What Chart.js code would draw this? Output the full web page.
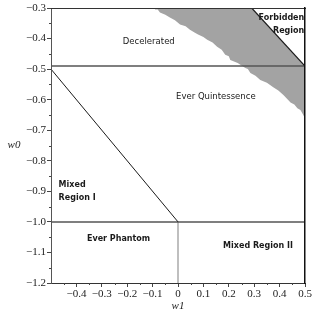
<!DOCTYPE html>
<html>
<head>
<meta charset="utf-8">
<script src="https://cdn.jsdelivr.net/npm/chart.js@4.4.0/dist/chart.umd.min.js"></script>
<style>
    html, body { margin: 0; padding: 0; background: #fff; }
    #wrap { width: 316px; height: 316px; }
</style>
</head>
<body>
<div id="wrap"><canvas id="regionChart" width="316" height="316"></canvas></div>
<script>
// === Data ===
const w1Ticks = [-0.4, -0.3, -0.2, -0.1, 0, 0.1, 0.2, 0.3, 0.4, 0.5];
const w0Ticks = [-0.3, -0.4, -0.5, -0.6, -0.7, -0.8, -0.9, -1.0, -1.1, -1.2];

const decelLineW1 = [-0.5, 0.5];
const decelLineW0 = [-0.49, -0.49];
const phantomLineW1 = [-0.5, 0.5];
const phantomLineW0 = [-1.0, -1.0];
const mixedDiagW1 = [-0.5, 0];
const mixedDiagW0 = [-0.5, -1.0];
const splitLineW1 = [0, 0];
const splitLineW0 = [-1.0, -1.2];
const forbiddenW1 = [0.29, 0.5];
const forbiddenW0 = [-0.3, -0.49];

// lower edge of the grey (numerically found) region, a bit ragged
const shadeW1 = [-0.091, -0.080, -0.071, -0.050, -0.032, -0.012, 0.008, 0.030, 0.047, 0.065, 0.079,
    0.100, 0.115, 0.136, 0.154, 0.172, 0.186, 0.200, 0.206, 0.235, 0.265, 0.275, 0.285, 0.305,
    0.324, 0.350, 0.375, 0.395, 0.415, 0.430, 0.443, 0.458, 0.470, 0.482, 0.490, 0.5];
const shadeW0 = [-0.305, -0.305, -0.315, -0.322, -0.331, -0.340, -0.354, -0.360, -0.371, -0.380, -0.387,
    -0.395, -0.404, -0.413, -0.427, -0.437, -0.453, -0.458, -0.470, -0.480, -0.496, -0.500, -0.513, -0.522,
    -0.536, -0.545, -0.559, -0.570, -0.585, -0.598, -0.609, -0.616, -0.628, -0.634, -0.645, -0.661];

const regionNames = ['Decelerated', 'Forbidden', 'Region', 'Ever Quintessence', 'Mixed', 'Region I', 'Ever Phantom', 'Mixed Region II'];

// === Label placement (data coordinates) ===
const labelSpots = [
    { w1: -0.115, w0: -0.410, align: 'center', bold: false },
    { w1: 0.497, w0: -0.331, align: 'right', bold: true },
    { w1: 0.497, w0: -0.374, align: 'right', bold: true },
    { w1: 0.149, w0: -0.590, align: 'center', bold: false },
    { w1: -0.470, w0: -0.879, align: 'left', bold: true },
    { w1: -0.470, w0: -0.921, align: 'left', bold: true },
    { w1: -0.234, w0: -1.056, align: 'center', bold: true },
    { w1: 0.315, w0: -1.079, align: 'center', bold: true }
];

const toPoints = (xs, ys) => xs.map((x, i) => ({ x: x, y: ys[i] }));

const fmtTick = v => {
    const r = Math.round(v * 10) / 10;
    if (r === 0) return '0';
    return (r < 0 ? '\u2212' : '') + Math.abs(r).toFixed(1);
};

const lineSet = (pts, color, width, order) => ({
    data: pts,
    borderColor: color,
    borderWidth: width,
    pointRadius: 0,
    fill: false,
    order: order
});

// === Plugin: region names, axis titles, minor ticks ===
const decorPlugin = {
    id: 'decor',
    afterDatasetsDraw(chart) {
        const { ctx, scales: { x, y } } = chart;
        ctx.save();
        ctx.fillStyle = '#1a1a1a';
        ctx.textBaseline = 'middle';
        labelSpots.forEach((spot, i) => {
            ctx.font = spot.bold ? 'bold 8px "DejaVu Sans", sans-serif' : '8.5px "DejaVu Sans", sans-serif';
            ctx.textAlign = spot.align;
            ctx.fillText(regionNames[i], x.getPixelForValue(spot.w1), y.getPixelForValue(spot.w0));
        });
        ctx.restore();
    },
    afterDraw(chart) {
        const { ctx, chartArea: area, scales: { x, y } } = chart;
        ctx.save();
        // minor ticks halfway between the major ones
        ctx.strokeStyle = '#444';
        ctx.lineWidth = 1;
        ctx.beginPath();
        const xs = [-0.5].concat(w1Ticks);
        for (let i = 0; i < xs.length - 1; i++) {
            const px = Math.round(x.getPixelForValue((xs[i] + xs[i + 1]) / 2)) + 0.5;
            ctx.moveTo(px, area.bottom);
            ctx.lineTo(px, area.bottom + 2);
        }
        for (let i = 0; i < w0Ticks.length - 1; i++) {
            const py = Math.round(y.getPixelForValue((w0Ticks[i] + w0Ticks[i + 1]) / 2)) + 0.5;
            ctx.moveTo(area.left, py);
            ctx.lineTo(area.left - 2, py);
        }
        ctx.stroke();

        // axis titles
        ctx.fillStyle = '#222';
        ctx.font = 'italic 11px "Liberation Serif", "DejaVu Serif", serif';
        ctx.textAlign = 'center';
        ctx.textBaseline = 'middle';
        ctx.fillText('w0', 14, (area.top + area.bottom) / 2);
        ctx.fillText('w1', (area.left + area.right) / 2, 306);
        ctx.restore();
    }
};

const tickFont = { family: 'Liberation Serif, DejaVu Serif, serif', size: 11 };

new Chart(document.getElementById('regionChart').getContext('2d'), {
    type: 'line',
    data: {
        datasets: [
            lineSet(toPoints(mixedDiagW1, mixedDiagW0), '#1a1a1a', 1, 0),
            lineSet(toPoints(forbiddenW1, forbiddenW0), '#1a1a1a', 1.2, 0),
            lineSet(toPoints(decelLineW1, decelLineW0), '#555', 1.5, 0),
            lineSet(toPoints(phantomLineW1, phantomLineW0), '#555', 1.5, 0),
            lineSet(toPoints(splitLineW1, splitLineW0), '#aaa', 1.5, 0),
            {
                data: toPoints(forbiddenW1, forbiddenW0),
                borderWidth: 0,
                pointRadius: 0,
                backgroundColor: '#fff',
                fill: 'end',
                order: 1
            },
            {
                data: toPoints(shadeW1, shadeW0),
                borderWidth: 0,
                pointRadius: 0,
                backgroundColor: '#a3a3a3',
                fill: 'end',
                order: 2
            }
        ]
    },
    options: {
        responsive: false,
        animation: false,
        layout: { padding: 0 },
        plugins: {
            legend: { display: false },
            tooltip: { enabled: false }
        },
        scales: {
            x: {
                type: 'linear',
                position: 'bottom',
                min: -0.5,
                max: 0.5,
                afterFit: s => { s.height = 33; },
                afterBuildTicks: s => { s.ticks = w1Ticks.map(v => ({ value: v })); },
                ticks: {
                    callback: v => fmtTick(v),
                    font: tickFont,
                    color: '#222',
                    padding: 1,
                    maxRotation: 0,
                    autoSkip: false
                },
                grid: { drawOnChartArea: false, tickLength: 4, tickColor: '#444' },
                border: { color: '#333', width: 1, z: 1 }
            },
            y: {
                type: 'linear',
                position: 'left',
                min: -1.2,
                max: -0.3,
                afterFit: s => { s.width = 51; },
                afterBuildTicks: s => { s.ticks = w0Ticks.map(v => ({ value: v })); },
                ticks: {
                    callback: v => fmtTick(v),
                    font: tickFont,
                    color: '#222',
                    padding: 1,
                    autoSkip: false
                },
                grid: { drawOnChartArea: false, tickLength: 4, tickColor: '#444' },
                border: { color: '#555', width: 1, z: 1 }
            },
            xTop: {
                type: 'linear',
                position: 'top',
                min: -0.5,
                max: 0.5,
                afterFit: s => { s.height = 8; },
                ticks: { display: false },
                grid: { display: false, drawTicks: false },
                border: { color: '#333', width: 1, z: 1 }
            },
            yRight: {
                type: 'linear',
                position: 'right',
                min: -1.2,
                max: -0.3,
                afterFit: s => { s.width = 11; },
                ticks: { display: false },
                grid: { display: false, drawTicks: false },
                border: { color: '#111', width: 1.5, z: 1 }
            }
        }
    },
    plugins: [decorPlugin]
});
</script>
</body>
</html>
